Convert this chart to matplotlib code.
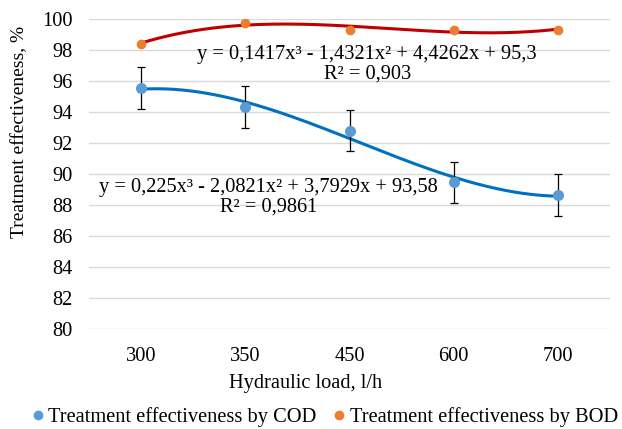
import numpy as np
import matplotlib.pyplot as plt
from matplotlib.lines import Line2D

plt.rcParams['font.family'] = ['Liberation Serif', 'DejaVu Serif']

# --- DATOS ---
cargas = ['300', '350', '450', '600', '700']
cod = [95.55, 94.3, 92.8, 89.45, 88.65]
cod_err = [1.35, 1.35, 1.35, 1.35, 1.35]
bod = [98.4, 99.75, 99.3, 99.3, 99.3]
eq_cod = 'y = 0,225x³ - 2,0821x² + 3,7929x + 93,58\nR² = 0,9861'
eq_bod = 'y = 0,1417x³ - 1,4321x² + 4,4262x + 95,3\nR² = 0,903'

FS = 14.7
x = np.arange(1, len(cargas) + 1)
xs = np.linspace(1, len(cargas), 200)

fig = plt.figure(figsize=(6.22, 4.29), dpi=100)
ax = fig.add_axes([0.143, 0.233, 0.838, 0.723])

# lineas de tendencia (polinomio grado 3)
p_cod = np.polyfit(x, cod, 3)
p_bod = np.polyfit(x, bod, 3)
ax.plot(xs, np.polyval(p_cod, xs), color='#0070C0', lw=2.2, zorder=2)
ax.plot(xs, np.polyval(p_bod, xs), color='#C00000', lw=2.2, zorder=2)

ax.errorbar(x, cod, yerr=cod_err, fmt='none', ecolor='black', elinewidth=0.9,
            capsize=3, capthick=0.9, zorder=3)
ax.plot(x, cod, 'o', color='#5B9BD5', ms=7, zorder=4)
ax.plot(x, bod, 'o', color='#ED7D31', ms=6, zorder=4)

ax.text(3.17, 97.1, eq_bod, ha='center', va='center', fontsize=FS, linespacing=1.05)
ax.text(2.22, 88.5, eq_cod, ha='center', va='center', fontsize=FS, linespacing=1.05)

ax.set_xlim(0.5, len(cargas) + 0.5)
ax.set_ylim(80, 100)
ax.set_yticks(range(80, 101, 2))
ax.set_xticks(x)
ax.set_xticklabels(cargas)
ax.tick_params(length=0, labelsize=FS)
ax.tick_params(axis='x', pad=13)
ax.tick_params(axis='y', pad=12)
ax.grid(axis='y', color='#D9D9D9', lw=1)
ax.set_axisbelow(True)
for s in ax.spines.values():
    s.set_visible(False)

ax.set_xlabel('Hydraulic load, l/h', fontsize=FS)
ax.xaxis.set_label_coords(0.4165, -0.175)
ax.xaxis.label.set_va('center')
ax.set_ylabel('Treatment effectiveness, %', fontsize=14)
ax.yaxis.set_label_coords(-0.134, 0.637)
ax.yaxis.label.set_va('center')

handles = [Line2D([], [], ls='none', marker='o', color='#5B9BD5', ms=6),
           Line2D([], [], ls='none', marker='o', color='#ED7D31', ms=6)]
fig.legend(handles, ['Treatment effectiveness by COD', 'Treatment effectiveness by BOD'],
           loc='center', bbox_to_anchor=(0.522, 0.028), ncol=2, frameon=False,
           fontsize=FS, handletextpad=0.2, columnspacing=0.83, handlelength=0.6,
           borderpad=0, borderaxespad=0)

fig.savefig('out.png', dpi=100)
